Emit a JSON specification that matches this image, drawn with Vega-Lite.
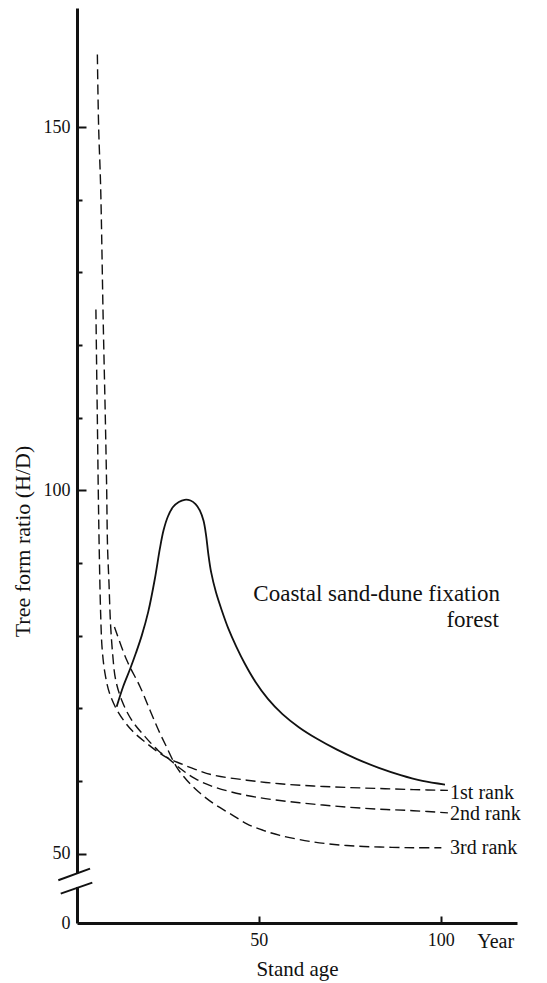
{
  "$schema": "https://vega.github.io/schema/vega-lite/v6.json",
  "width": 440,
  "height": 915,
  "autosize": "none",
  "padding": {"left": 77, "top": 8, "right": 30, "bottom": 60},
  "background": "white",
  "config": {"view": {"stroke": null}, "font": "Liberation Serif", "axis": {"grid": false}},
  "datasets": {
    "curves": [
      {"series": "Coastal sand-dune fixation forest", "age": 10.9, "ratio": 70.2},
      {"series": "Coastal sand-dune fixation forest", "age": 12.7, "ratio": 73.0},
      {"series": "Coastal sand-dune fixation forest", "age": 14.6, "ratio": 75.4},
      {"series": "Coastal sand-dune fixation forest", "age": 16.2, "ratio": 77.6},
      {"series": "Coastal sand-dune fixation forest", "age": 17.8, "ratio": 80.0},
      {"series": "Coastal sand-dune fixation forest", "age": 19.6, "ratio": 83.3},
      {"series": "Coastal sand-dune fixation forest", "age": 21.4, "ratio": 87.8},
      {"series": "Coastal sand-dune fixation forest", "age": 22.8, "ratio": 92.0},
      {"series": "Coastal sand-dune fixation forest", "age": 23.8, "ratio": 94.5},
      {"series": "Coastal sand-dune fixation forest", "age": 25.0, "ratio": 96.4},
      {"series": "Coastal sand-dune fixation forest", "age": 26.4, "ratio": 97.7},
      {"series": "Coastal sand-dune fixation forest", "age": 28.0, "ratio": 98.4},
      {"series": "Coastal sand-dune fixation forest", "age": 29.6, "ratio": 98.7},
      {"series": "Coastal sand-dune fixation forest", "age": 31.2, "ratio": 98.6},
      {"series": "Coastal sand-dune fixation forest", "age": 32.6, "ratio": 98.1},
      {"series": "Coastal sand-dune fixation forest", "age": 33.8, "ratio": 97.2},
      {"series": "Coastal sand-dune fixation forest", "age": 34.8, "ratio": 95.8},
      {"series": "Coastal sand-dune fixation forest", "age": 35.5, "ratio": 93.8},
      {"series": "Coastal sand-dune fixation forest", "age": 36.1, "ratio": 91.3},
      {"series": "Coastal sand-dune fixation forest", "age": 36.9, "ratio": 88.7},
      {"series": "Coastal sand-dune fixation forest", "age": 38.2, "ratio": 86.0},
      {"series": "Coastal sand-dune fixation forest", "age": 39.8, "ratio": 83.5},
      {"series": "Coastal sand-dune fixation forest", "age": 41.6, "ratio": 81.0},
      {"series": "Coastal sand-dune fixation forest", "age": 43.8, "ratio": 78.5},
      {"series": "Coastal sand-dune fixation forest", "age": 46.2, "ratio": 76.1},
      {"series": "Coastal sand-dune fixation forest", "age": 49.0, "ratio": 73.7},
      {"series": "Coastal sand-dune fixation forest", "age": 52.5, "ratio": 71.3},
      {"series": "Coastal sand-dune fixation forest", "age": 56.5, "ratio": 69.2},
      {"series": "Coastal sand-dune fixation forest", "age": 61.0, "ratio": 67.4},
      {"series": "Coastal sand-dune fixation forest", "age": 66.0, "ratio": 65.8},
      {"series": "Coastal sand-dune fixation forest", "age": 71.5, "ratio": 64.3},
      {"series": "Coastal sand-dune fixation forest", "age": 77.0, "ratio": 63.0},
      {"series": "Coastal sand-dune fixation forest", "age": 83.0, "ratio": 61.8},
      {"series": "Coastal sand-dune fixation forest", "age": 89.0, "ratio": 60.8},
      {"series": "Coastal sand-dune fixation forest", "age": 95.0, "ratio": 60.0},
      {"series": "Coastal sand-dune fixation forest", "age": 101.2, "ratio": 59.5},

      {"series": "1st rank", "age": 5.2, "ratio": 124.9},
      {"series": "1st rank", "age": 5.45, "ratio": 115.0},
      {"series": "1st rank", "age": 5.6, "ratio": 109.7},
      {"series": "1st rank", "age": 5.85, "ratio": 100.0},
      {"series": "1st rank", "age": 6.1, "ratio": 92.2},
      {"series": "1st rank", "age": 6.5, "ratio": 83.1},
      {"series": "1st rank", "age": 6.9, "ratio": 78.3},
      {"series": "1st rank", "age": 7.7, "ratio": 74.8},
      {"series": "1st rank", "age": 9.0, "ratio": 72.0},
      {"series": "1st rank", "age": 11.4, "ratio": 69.4},
      {"series": "1st rank", "age": 15.0, "ratio": 67.0},
      {"series": "1st rank", "age": 19.1, "ratio": 65.2},
      {"series": "1st rank", "age": 22.8, "ratio": 63.8},
      {"series": "1st rank", "age": 25.1, "ratio": 63.1},
      {"series": "1st rank", "age": 28.4, "ratio": 62.4},
      {"series": "1st rank", "age": 32.5, "ratio": 61.6},
      {"series": "1st rank", "age": 37.5, "ratio": 60.8},
      {"series": "1st rank", "age": 46.7, "ratio": 60.1},
      {"series": "1st rank", "age": 55.8, "ratio": 59.6},
      {"series": "1st rank", "age": 65.0, "ratio": 59.3},
      {"series": "1st rank", "age": 74.2, "ratio": 59.1},
      {"series": "1st rank", "age": 83.3, "ratio": 58.95},
      {"series": "1st rank", "age": 92.5, "ratio": 58.8},
      {"series": "1st rank", "age": 102.0, "ratio": 58.7},

      {"series": "2nd rank", "age": 5.6, "ratio": 160.0},
      {"series": "2nd rank", "age": 5.95, "ratio": 150.0},
      {"series": "2nd rank", "age": 6.5, "ratio": 141.8},
      {"series": "2nd rank", "age": 7.2, "ratio": 123.5},
      {"series": "2nd rank", "age": 7.8, "ratio": 109.7},
      {"series": "2nd rank", "age": 8.15, "ratio": 100.5},
      {"series": "2nd rank", "age": 8.4, "ratio": 92.2},
      {"series": "2nd rank", "age": 8.8, "ratio": 87.2},
      {"series": "2nd rank", "age": 9.2, "ratio": 81.8},
      {"series": "2nd rank", "age": 9.8, "ratio": 77.5},
      {"series": "2nd rank", "age": 10.6, "ratio": 74.0},
      {"series": "2nd rank", "age": 12.3, "ratio": 71.1},
      {"series": "2nd rank", "age": 15.0, "ratio": 68.4},
      {"series": "2nd rank", "age": 18.7, "ratio": 66.1},
      {"series": "2nd rank", "age": 22.3, "ratio": 64.2},
      {"series": "2nd rank", "age": 25.1, "ratio": 63.1},
      {"series": "2nd rank", "age": 28.4, "ratio": 61.7},
      {"series": "2nd rank", "age": 32.5, "ratio": 60.3},
      {"series": "2nd rank", "age": 37.5, "ratio": 59.2},
      {"series": "2nd rank", "age": 46.7, "ratio": 58.0},
      {"series": "2nd rank", "age": 55.8, "ratio": 57.3},
      {"series": "2nd rank", "age": 65.0, "ratio": 56.8},
      {"series": "2nd rank", "age": 74.2, "ratio": 56.4},
      {"series": "2nd rank", "age": 83.3, "ratio": 56.1},
      {"series": "2nd rank", "age": 92.5, "ratio": 55.9},
      {"series": "2nd rank", "age": 102.0, "ratio": 55.6},

      {"series": "3rd rank", "age": 10.3, "ratio": 81.2},
      {"series": "3rd rank", "age": 13.7, "ratio": 76.6},
      {"series": "3rd rank", "age": 17.4, "ratio": 72.9},
      {"series": "3rd rank", "age": 20.1, "ratio": 69.7},
      {"series": "3rd rank", "age": 22.4, "ratio": 67.0},
      {"series": "3rd rank", "age": 24.6, "ratio": 64.7},
      {"series": "3rd rank", "age": 27.4, "ratio": 61.9},
      {"series": "3rd rank", "age": 30.2, "ratio": 60.1},
      {"series": "3rd rank", "age": 33.4, "ratio": 58.5},
      {"series": "3rd rank", "age": 37.5, "ratio": 56.9},
      {"series": "3rd rank", "age": 42.1, "ratio": 55.5},
      {"series": "3rd rank", "age": 46.7, "ratio": 54.1},
      {"series": "3rd rank", "age": 51.2, "ratio": 53.2},
      {"series": "3rd rank", "age": 55.8, "ratio": 52.5},
      {"series": "3rd rank", "age": 65.0, "ratio": 51.6},
      {"series": "3rd rank", "age": 74.2, "ratio": 51.1},
      {"series": "3rd rank", "age": 83.3, "ratio": 50.9},
      {"series": "3rd rank", "age": 92.5, "ratio": 50.8},
      {"series": "3rd rank", "age": 100.2, "ratio": 50.8}
    ],
    "rankLabels": [
      {"age": 102.6, "ratio": 58.4, "text": "1st rank"},
      {"age": 102.6, "ratio": 55.4, "text": "2nd rank"},
      {"age": 102.6, "ratio": 50.7, "text": "3rd rank"}
    ],
    "curveLabel": [
      {"age": 116.3, "ratio": 84.75, "text": "Coastal sand-dune fixation"},
      {"age": 116.0, "ratio": 81.17, "text": "forest"}
    ],
    "gap": [
      {"age": 0, "ratio": 45.4, "age2": 0, "ratio2": 47.3}
    ],
    "slashes": [
      {"age": -5.14, "ratio": 46.32, "age2": 3.58, "ratio2": 47.93},
      {"age": -4.48, "ratio": 44.49, "age2": 4.21, "ratio2": 46.0}
    ]
  },
  "encoding": {
    "x": {
      "field": "age",
      "type": "quantitative",
      "scale": {"domain": [0, 121], "nice": false, "zero": false},
      "axis": {
        "values": [50, 100, 115],
        "labelExpr": "datum.value > 110 ? 'Year' : datum.label",
        "tickSize": -7,
        "tickWidth": 2,
        "tickColor": "#111",
        "tickOpacity": {"condition": {"test": "datum.value > 110", "value": 0}, "value": 1},
        "labelPadding": 15,
        "labelFlush": false,
        "labelFontSize": {"condition": {"test": "datum.value > 110", "value": 20}, "value": 18},
        "labelColor": "#111",
        "labelFont": "Liberation Serif",
        "domainWidth": 3,
        "domainColor": "#111",
        "title": "Stand age",
        "titleFont": "Liberation Serif",
        "titleFontSize": 21,
        "titleFontWeight": "normal",
        "titleColor": "#111",
        "titleBaseline": "alphabetic",
        "titleAnchor": "middle",
        "titleY": 52
      }
    },
    "y": {
      "field": "ratio",
      "type": "quantitative",
      "scale": {"domain": [40.44, 166.4], "nice": false, "zero": false},
      "axis": {
        "values": [40.44, 50, 60, 70, 80, 90, 100, 110, 120, 130, 140, 150],
        "labelExpr": "datum.value < 45 ? '0' : (datum.value % 50 == 0 ? datum.label : '')",
        "tickSize": {"condition": {"test": "datum.value % 50 == 0 || datum.value < 45", "value": -9}, "value": -5},
        "tickOpacity": {"condition": {"test": "datum.value < 45", "value": 0}, "value": 1},
        "tickWidth": 2,
        "tickColor": "#111",
        "labelPadding": 16,
        "labelFlush": false,
        "labelFontSize": 18,
        "labelColor": "#111",
        "labelFont": "Liberation Serif",
        "domainWidth": 3,
        "domainColor": "#111",
        "title": "Tree form ratio (H/D)",
        "titleFont": "Liberation Serif",
        "titleFontSize": 22,
        "titleFontWeight": "normal",
        "titleColor": "#111",
        "titleAngle": -90,
        "titleAlign": "center",
        "titleBaseline": "middle",
        "titleX": -55,
        "titleY": 533
      }
    }
  },
  "layer": [
    {
      "data": {"name": "curves"},
      "transform": [{"filter": "datum.series == 'Coastal sand-dune fixation forest'"}],
      "mark": {"type": "line", "interpolate": "catmull-rom", "color": "#111", "strokeWidth": 1.8},
      "encoding": {}
    },
    {
      "data": {"name": "curves"},
      "transform": [{"filter": "datum.series != 'Coastal sand-dune fixation forest'"}],
      "mark": {"type": "line", "interpolate": "catmull-rom", "color": "#111", "strokeWidth": 1.4, "strokeDash": [10, 5]},
      "encoding": {"detail": {"field": "series"}}
    },
    {
      "data": {"name": "gap"},
      "mark": {"type": "rule", "color": "white", "strokeWidth": 7},
      "encoding": {"x2": {"field": "age2"}, "y2": {"field": "ratio2"}}
    },
    {
      "data": {"name": "slashes"},
      "mark": {"type": "rule", "color": "#111", "strokeWidth": 2},
      "encoding": {"x2": {"field": "age2"}, "y2": {"field": "ratio2"}}
    },
    {
      "data": {"name": "rankLabels"},
      "mark": {"type": "text", "align": "left", "baseline": "middle", "fontSize": 20, "font": "Liberation Serif", "color": "#111"},
      "encoding": {"text": {"field": "text"}}
    },
    {
      "data": {"name": "curveLabel"},
      "mark": {"type": "text", "align": "right", "baseline": "alphabetic", "fontSize": 23, "font": "Liberation Serif", "color": "#111"},
      "encoding": {"text": {"field": "text"}}
    }
  ]
}
